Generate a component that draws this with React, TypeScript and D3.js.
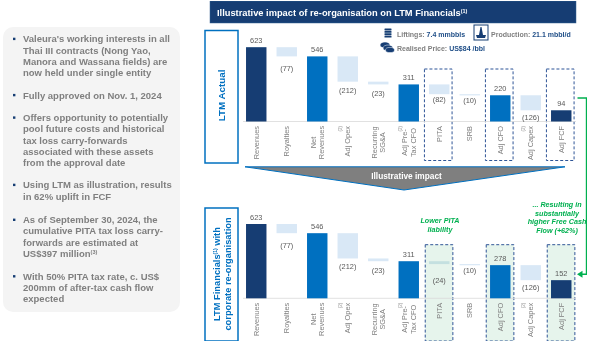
import React from "react";
import * as d3 from "d3";

const categories = ["Revenues", "Royalties", "Net Revenues", "Adj Opex", "Recurring SG&A", "Adj Pre- Tax CFO", "PITA", "SRB", "Adj CFO", "Adj Capex", "Adj FCF"];
const categoryLines = [["Revenues"], ["Royalties"], ["Net", "Revenues"], ["Adj Opex"], ["Recurring", "SG&A"], ["Adj Pre-", "Tax CFO"], ["PITA"], ["SRB"], ["Adj CFO"], ["Adj Capex"], ["Adj FCF"]];
const noted = ["Adj Opex", "Adj Pre- Tax CFO", "Adj Capex"];
const actualValues = [623, -77, 546, -212, -23, 311, -82, -10, 220, -126, 94];
const pitaValues = [623, -77, 546, -212, -23, 311, -24, -10, 278, -126, 152];
const panelLines = [
  ["Valeura's working interests in all", "Thai III contracts (Nong Yao,", "Manora and Wassana fields) are", "now held under single entity"],
  ["Fully approved on Nov. 1, 2024"],
  ["Offers opportunity to potentially", "pool future costs and historical", "tax loss carry-forwards", "associated with these assets", "from the approval date"],
  ["Using LTM as illustration, results", "in 62% uplift in FCF"],
  ["As of September 30, 2024, the", "cumulative PITA tax loss carry-", "forwards are estimated at", "US$397 million"],
  ["With 50% PITA tax rate, c. US$", "200mm of after-tax cash flow", "expected"],
];
const panelStarts = [42.3, 98.5, 121, 188.3, 223.2, 279.7];
const highlighted = ["PITA", "Adj CFO", "Adj FCF"];

const FONT = "'Liberation Sans', Arial, sans-serif";
const NAVY = "#133c73";
const BLUE = "#0070c0";
const PALE = "#d9e8f6";
const GREY = "#7f7f7f";
const LABEL = "#595959";
const DASH = "#2f5597";
const GREEN = "#00b050";

const x = d3.scaleBand<string>().domain(categories).range([241, 576.5]).paddingInner(0.33).paddingOuter(0.165);
const PX_PER_UNIT = 74.3 / 623;

function Waterfall({ values, baseY, boxTop, boxBottom, filled }: { values: number[]; baseY: number; boxTop: number; boxBottom: number; filled: boolean }) {
  const y = d3.scaleLinear().domain([0, 623]).range([baseY, baseY - 623 * PX_PER_UNIT]);
  let run = 0;
  const gaps: Record<string, number> = { Royalties: 14.5, "Adj Opex": 11, "Recurring SG&A": 11.5, PITA: filled ? 18.6 : 8, SRB: 8, "Adj Capex": 10 };
  const boxInset = filled ? 0.8 : 0;
  return (
    <g>
      {highlighted.map((c) => {
        const bx = x(c)!;
        return (
          <rect key={c} x={bx - 4.6 + boxInset} y={boxTop} width={x.bandwidth() + 7.2} height={boxBottom - boxTop}
            fill={filled ? "#e6f4ec" : "none"} stroke={DASH} strokeWidth={1} strokeDasharray="3 2" />
        );
      })}
      <line x1={243} x2={576} y1={baseY} y2={baseY} stroke="#d9d9d9" strokeWidth={0.8} />
      {categories.map((c, i) => {
        const v = values[i];
        const bx = x(c)!;
        const bw = x.bandwidth();
        const cx = bx + bw / 2;
        const isDelta = v < 0;
        const top = isDelta ? run : v;
        const bottom = isDelta ? run + v : 0;
        run = isDelta ? run + v : v;
        const fill = isDelta ? (filled && c === "PITA" ? "#c4e0e0" : PALE) : c === "Revenues" || c === "Adj FCF" ? NAVY : BLUE;
        const lines = categoryLines[i];
        return (
          <g key={c}>
            <rect x={bx} y={y(top)} width={bw} height={Math.max(y(bottom) - y(top), 1)} fill={fill} />
            <text x={cx} y={isDelta ? y(bottom) + (gaps[c] ?? 10) : y(top) - 4} textAnchor="middle" fontSize={7.4} fill={LABEL} fontFamily={FONT}>
              {isDelta ? `(${-v})` : v}
            </text>
            {lines.map((line, li) => {
              const lx = cx + 2.7 + (lines.length > 1 ? (li === 0 ? -4.3 : 4.3) : 0);
              const ly = lines.length > 1 ? baseY + 21 : baseY + 4.5;
              return (
                <text key={line} transform={`translate(${lx},${ly}) rotate(-90)`} textAnchor={lines.length > 1 ? "middle" : "end"}
                  fontSize={7.4} fill={GREY} fontFamily={FONT}>
                  {line}
                </text>
              );
            })}
            {noted.includes(c) && (
              <text transform={`translate(${cx - (c === "Adj Pre- Tax CFO" ? 7 : 5.8)},${baseY + 4.5}) rotate(-90)`} textAnchor="end" fontSize={4.5} fill="#9a9a9a" fontFamily={FONT}>
                (2)
              </text>
            )}
          </g>
        );
      })}
    </g>
  );
}

function Coins({ cx, cy }: { cx: number; cy: number }) {
  return (
    <g fill={NAVY} stroke="#fff" strokeWidth={0.5}>
      <ellipse cx={cx - 2} cy={cy - 2} rx={5} ry={3} />
      <ellipse cx={cx + 1} cy={cy + 1} rx={5} ry={3} />
      <ellipse cx={cx + 3} cy={cy + 3} rx={4.5} ry={2.6} />
    </g>
  );
}

function Barrel({ cx, cy }: { cx: number; cy: number }) {
  return (
    <g fill={NAVY}>
      {[-5, -2.6, -0.2, 2.2].map((d) => (
        <rect key={d} x={cx - 3.5} y={cy + d} width={7} height={1.9} rx={0.4} />
      ))}
    </g>
  );
}

function Rig({ x0, y0 }: { x0: number; y0: number }) {
  return (
    <g>
      <rect x={x0} y={y0} width={14} height={15} fill="#fff" stroke={NAVY} strokeWidth={1} />
      <path d={`M${x0 + 2} ${y0 + 10} h10 l-1 3 h-8 z M${x0 + 5} ${y0 + 10} l1.5 -8 h1 l1.5 8 z`} fill={NAVY} />
    </g>
  );
}

export default function App() {
  return (
    <svg width={589} height={357} viewBox="0 0 589 357" style={{ position: "absolute", left: 0, top: 0, background: "#fff" }}>
      <defs>
        <filter id="soft" x="0" y="0" width="100%" height="100%">
          <feGaussianBlur stdDeviation="0.3" />
        </filter>
      </defs>
      <g filter="url(#soft)">
      <rect x={3} y={27} width={177} height={285} rx={10} fill="#f4f4f4" />
      {panelLines.map((para, pi) => (
        <g key={pi}>
          <rect x={13} y={panelStarts[pi] - 4.6} width={2.4} height={2.4} fill={NAVY} />
          {para.map((line, li) => (
            <text key={line} x={23} y={panelStarts[pi] + li * 11.25} fontSize={9.5} fontWeight="bold" fill={GREY} fontFamily={FONT}>
              {line}
              {line === "US$397 million" && <tspan fontSize={5.5} dy={-3}>(3)</tspan>}
            </text>
          ))}
        </g>
      ))}

      <rect x={210} y={1} width={366} height={22} fill={NAVY} stroke="#3d6595" strokeWidth={0.5} />
      <text x={217} y={16} fontSize={9.3} fontWeight="bold" fill="#fff" fontFamily={FONT}>
        Illustrative impact of re-organisation on LTM Financials<tspan fontSize={5.5} dy={-3}>(1)</tspan>
      </text>

      <Barrel cx={388} cy={33.5} />
      <Coins cx={387} cy={47} />
      <Rig x0={474} y0={25} />
      <text x={397} y={36.5} fontSize={7} fontWeight="bold" fill={GREY} fontFamily={FONT}>
        Liftings: <tspan fill="#1f4e87">7.4 mmbbls</tspan>
      </text>
      <text x={491} y={36.5} fontSize={7} fontWeight="bold" fill={GREY} fontFamily={FONT}>
        Production: <tspan fill="#1f4e87">21.1 mbbl/d</tspan>
      </text>
      <text x={397} y={51} fontSize={7} fontWeight="bold" fill={GREY} fontFamily={FONT}>
        Realised Price: <tspan fill="#1f4e87">US$84 /bbl</tspan>
      </text>

      <rect x={205} y={30.5} width={33} height={132.5} fill="#fff" stroke={BLUE} strokeWidth={1.5} />
      <text transform="translate(225.2,95.5) rotate(-90)" textAnchor="middle" fontSize={9.8} fontWeight="bold" fill={BLUE} fontFamily={FONT}>LTM Actual</text>

      <rect x={205} y={208} width={33} height={133} fill="#fff" stroke={BLUE} strokeWidth={1.5} />
      <text transform="translate(220,274) rotate(-90)" textAnchor="middle" fontSize={9.3} fontWeight="bold" fill={BLUE} fontFamily={FONT}>
        LTM Financials<tspan fontSize={5} dy={-3}>(1)</tspan><tspan dy={3}> with</tspan>
      </text>
      <text transform="translate(231,274) rotate(-90)" textAnchor="middle" fontSize={9.3} fontWeight="bold" fill={BLUE} fontFamily={FONT}>
        corporate re-organisation
      </text>

      <Waterfall values={actualValues} baseY={121.5} boxTop={69} boxBottom={160.5} filled={false} />

      <path d="M245 166.8 L565 166.8 L404 190 Z" fill={GREY} stroke={BLUE} strokeWidth={1} strokeLinejoin="round" />
      <text x={406.5} y={179} textAnchor="middle" fontSize={8.3} fontWeight="bold" fill="#fff" fontFamily={FONT}>Illustrative impact</text>

      <Waterfall values={pitaValues} baseY={298.3} boxTop={244.7} boxBottom={341} filled={true} />

      <g fontFamily={FONT} fontSize={7.2} fontWeight="bold" fontStyle="italic" fill={GREEN} textAnchor="middle">
        <text x={440} y={223.2}>Lower PITA</text>
        <text x={440} y={231.8}>liability</text>
        <text x={557} y={207}>... Resulting in</text>
        <text x={557} y={215.7}>substantially</text>
        <text x={557} y={224}>higher Free Cash</text>
        <text x={557} y={232.7}>Flow (+62%)</text>
      </g>

      <path d="M577.5 98 H586.5 V274.3 H581" fill="none" stroke={GREEN} strokeWidth={1.4} />
      <path d="M577 274.3 L582.5 270.8 V277.8 Z" fill={GREEN} />
      </g>
    </svg>
  );
}
